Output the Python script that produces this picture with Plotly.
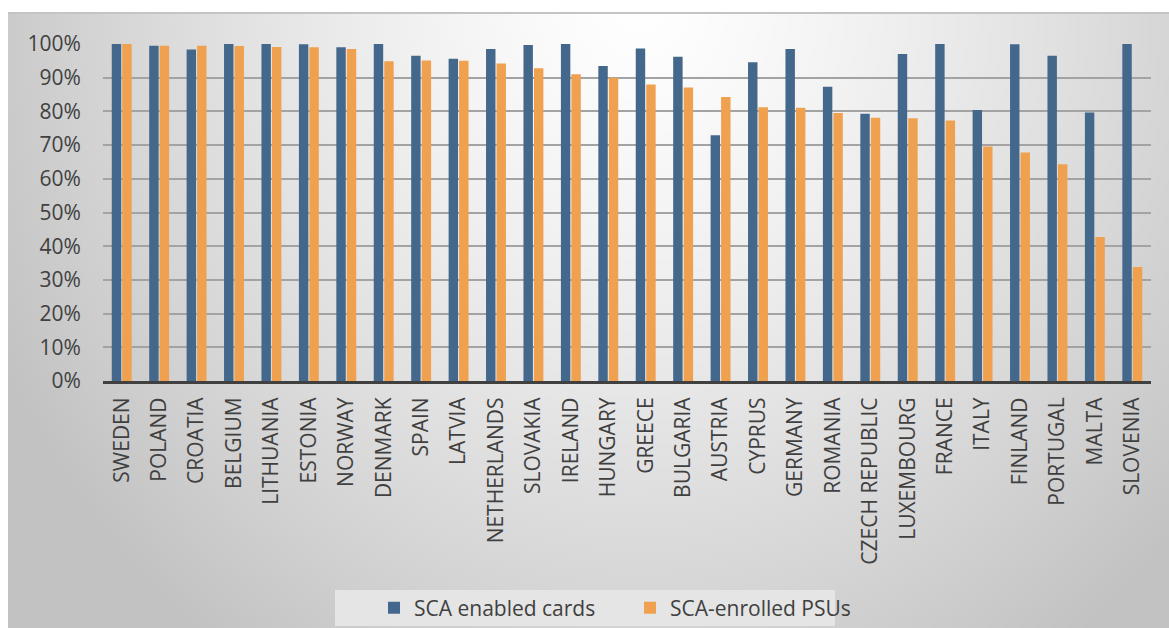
import base64, struct, zlib
import numpy as np
import plotly.graph_objects as go

countries = ["SWEDEN", "POLAND", "CROATIA", "BELGIUM", "LITHUANIA", "ESTONIA", "NORWAY",
             "DENMARK", "SPAIN", "LATVIA", "NETHERLANDS", "SLOVAKIA", "IRELAND", "HUNGARY",
             "GREECE", "BULGARIA", "AUSTRIA", "CYPRUS", "GERMANY", "ROMANIA", "CZECH REPUBLIC",
             "LUXEMBOURG", "FRANCE", "ITALY", "FINLAND", "PORTUGAL", "MALTA", "SLOVENIA"]
sca_cards = [100.0, 99.5, 98.4, 100.0, 100.0, 99.9, 99.0, 100.0, 96.5, 95.6, 98.5, 99.7,
             100.0, 93.5, 98.7, 96.2, 72.9, 94.6, 98.5, 87.3, 79.3, 97.0, 100.0, 80.4,
             99.9, 96.5, 79.7, 100.0]
sca_psus = [100.0, 99.5, 99.5, 99.4, 99.1, 99.0, 98.5, 94.9, 95.1, 95.0, 94.2, 92.8,
            91.0, 90.0, 88.0, 87.1, 84.3, 81.2, 81.1, 79.5, 78.1, 78.0, 77.3, 69.6,
            67.8, 64.3, 42.7, 33.8]
y_ticks = list(range(0, 101, 10))

W, H = 1169, 628
ML, MR, MT, MB = 103, 18, 44, 247
PW, PH = W - ML - MR, H - MT - MB


def px_x(px):
    return (px - ML) / PW


def px_y(py):
    return (H - MB - py) / PH


# background gradient image (grayscale PNG)
gw, gh = 290, 154
xs = np.linspace(8, W, gw)
ys = np.linspace(13, H, gh)
X, Y = np.meshgrid(xs, ys)
d = np.sqrt(((X - 640) / 640.0) ** 2 + ((Y - 0) / 720.0) ** 2)
t = np.clip(d, 0, 1.12)
val = 255 - 52 * t ** 1.3
val = np.clip(val, 190, 255).astype(np.uint8)
raw = b"".join(b"\x00" + bytes(row) for row in val)


def chunk(tag, data):
    c = struct.pack(">I", len(data)) + tag + data
    return c + struct.pack(">I", zlib.crc32(tag + data) & 0xFFFFFFFF)


png = b"\x89PNG\r\n\x1a\n" + chunk(b"IHDR", struct.pack(">IIBBBBB", gw, gh, 8, 0, 0, 0, 0)) \
    + chunk(b"IDAT", zlib.compress(raw, 9)) + chunk(b"IEND", b"")
bg_src = "data:image/png;base64," + base64.b64encode(png).decode()

fig = go.Figure()
fig.add_trace(go.Bar(x=countries, y=sca_cards, name="SCA enabled cards",
                     marker=dict(color="#43688b", line=dict(width=0))))
fig.add_trace(go.Bar(x=countries, y=sca_psus, name="SCA-enrolled PSUs",
                     marker=dict(color="#efa14f", line=dict(width=0))))

font = dict(family="Open Sans", size=21, color="#404040")

fig.update_layout(
    width=W, height=H,
    margin=dict(l=ML, r=MR, t=MT, b=MB, autoexpand=False),
    paper_bgcolor="white",
    plot_bgcolor="rgba(0,0,0,0)",
    font=font,
    barmode="group",
    bargap=0.44,
    bargroupgap=0.1,
    showlegend=True,
    legend=dict(orientation="h", x=px_x(374), y=px_y(608), xanchor="left", yanchor="middle",
                bgcolor="rgba(0,0,0,0)", font=font, itemwidth=30, traceorder="normal",
                entrywidth=211, entrywidthmode="pixels"),
    xaxis=dict(type="category", tickangle=-90, showgrid=False, showline=True,
               linecolor="#404040", linewidth=3, ticks="outside", ticklen=5,
               tickcolor="rgba(0,0,0,0)", tickfont=font, fixedrange=True),
    yaxis=dict(range=[0, 100], tickvals=y_ticks, ticktext=[f"{v}%" for v in y_ticks],
               showgrid=True, gridcolor="#a3a3a3", gridwidth=1.5, zeroline=False,
               showline=False, ticks="outside", ticklen=17, tickcolor="rgba(0,0,0,0)",
               tickfont=font, fixedrange=True),
    images=[dict(source=bg_src, xref="paper", yref="paper",
                 x=px_x(8), y=px_y(13), sizex=(W - 8) / PW, sizey=(H - 13) / PH,
                 xanchor="left", yanchor="top", sizing="stretch", layer="below")],
    shapes=[
        dict(type="rect", xref="paper", yref="paper", x0=px_x(335), x1=px_x(835),
             y0=px_y(590), y1=px_y(626), fillcolor="#e5e5e5", line=dict(width=0), layer="below"),
        dict(type="line", xref="paper", yref="paper", x0=px_x(8), x1=px_x(W),
             y0=px_y(13), y1=px_y(13), line=dict(color="#c4c4c4", width=2), layer="below"),
    ],
)

fig.write_html("out.html")
